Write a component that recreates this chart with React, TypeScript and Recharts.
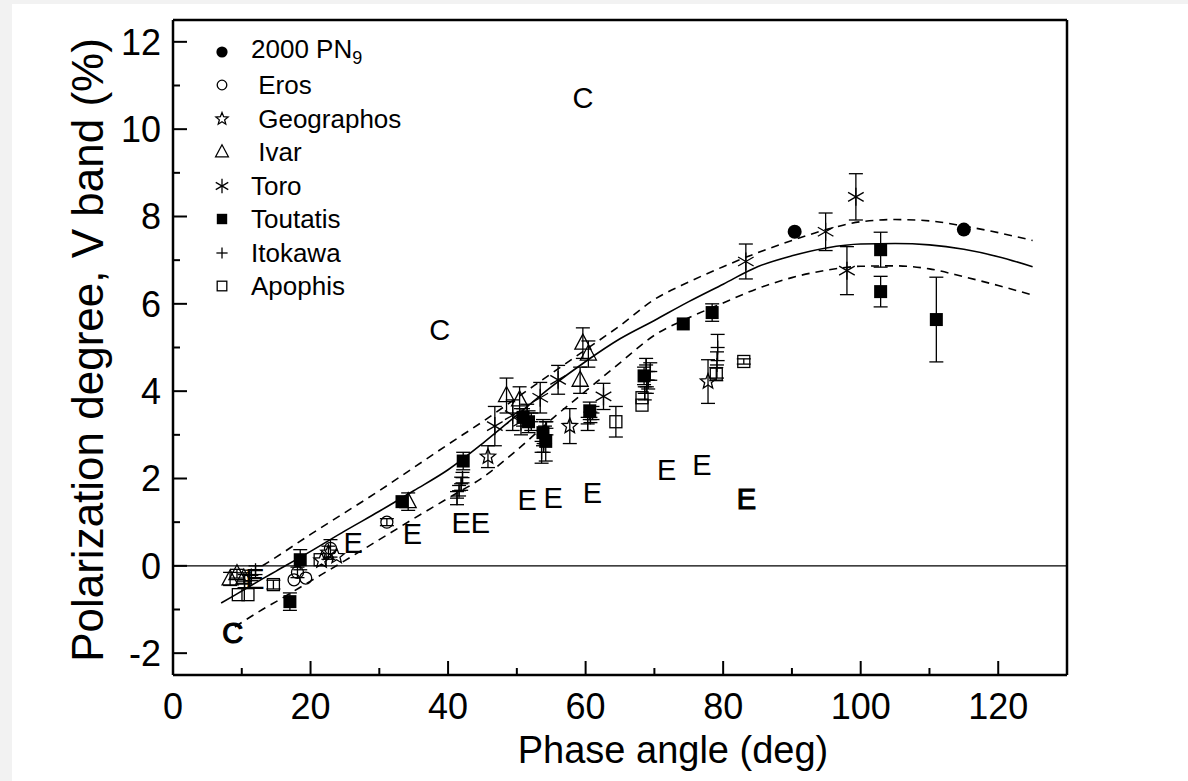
import React from 'react';
import {
  ComposedChart, Line, Scatter, XAxis, YAxis, ErrorBar, ReferenceLine, Legend,
} from 'recharts';

type Pt = { x: number; y: number; e?: number };

const FONT = "Arial, 'Liberation Sans', sans-serif";

// axis ticks
const X_TICKS = [0, 10, 20, 30, 40, 50, 60, 70, 80, 90, 100, 110, 120, 130];
const Y_TICKS = [-2, -1, 0, 1, 2, 3, 4, 5, 6, 7, 8, 9, 10, 11, 12];

// fitted phase curve and its envelope
const CURVE_X = [7, 9, 13, 15, 20, 25, 30, 35, 40, 45, 50, 55, 60, 65, 70, 75, 80, 85, 90, 95, 100, 105, 110, 115, 120, 125];
const FIT = [-0.85, -0.67, -0.3, -0.12, 0.33, 0.8, 1.25, 1.72, 2.2, 2.8, 3.45, 4.1, 4.68, 5.2, 5.62, 6.05, 6.45, 6.85, 7.1, 7.28, 7.37, 7.38, 7.35, 7.25, 7.08, 6.85];
const FIT_UPPER = [null, null, 0.0, 0.2, 0.72, 1.22, 1.72, 2.25, 2.78, 3.3, 3.85, 4.4, 4.95, 5.5, 6.1, 6.5, 6.85, 7.17, 7.45, 7.7, 7.88, 7.93, 7.9, 7.78, 7.63, 7.45];
const FIT_LOWER = [null, -1.4, -1.0, -0.82, -0.35, 0.12, 0.6, 1.08, 1.55, 2.02, 2.65, 3.35, 4.0, 4.65, 5.28, 5.68, 6.02, 6.35, 6.6, 6.77, 6.86, 6.87, 6.8, 6.62, 6.42, 6.2];

// observations
const PN9: Pt[] = [{ x: 90.4, y: 7.65 }, { x: 115, y: 7.7 }];
const EROS: Pt[] = [
  { x: 17.6, y: -0.32 }, { x: 18.1, y: -0.15, e: 0.12 }, { x: 19.3, y: -0.28 },
  { x: 22.9, y: 0.4, e: 0.2 }, { x: 31.1, y: 1.0, e: 0.08 },
];
const GEOGRAPHOS: Pt[] = [
  { x: 21.6, y: 0.12 }, { x: 22.6, y: 0.3, e: 0.15 }, { x: 23.8, y: 0.22 },
  { x: 45.8, y: 2.5, e: 0.25 }, { x: 57.7, y: 3.2, e: 0.4 }, { x: 77.8, y: 4.22, e: 0.5 },
];
const IVAR: Pt[] = [
  { x: 8.3, y: -0.3, e: 0.15 }, { x: 9.3, y: -0.18, e: 0.1 }, { x: 10.3, y: -0.28, e: 0.12 },
  { x: 34.2, y: 1.47, e: 0.2 }, { x: 48.5, y: 3.9, e: 0.4 }, { x: 50.4, y: 3.8, e: 0.3 },
  { x: 59.2, y: 4.25, e: 0.3 }, { x: 59.6, y: 5.1, e: 0.35 }, { x: 60.4, y: 4.85, e: 0.3 },
];
const TORO: Pt[] = [
  { x: 46.8, y: 3.2, e: 0.45 }, { x: 49.4, y: 3.45, e: 0.35 }, { x: 50.6, y: 3.3, e: 0.3 },
  { x: 53.4, y: 3.85, e: 0.35 }, { x: 56, y: 4.26, e: 0.33 }, { x: 62.6, y: 3.88, e: 0.3 },
  { x: 83.3, y: 6.97, e: 0.4 }, { x: 94.9, y: 7.65, e: 0.43 }, { x: 98, y: 6.76, e: 0.55 },
  { x: 99.3, y: 8.45, e: 0.53 },
];
const TOUTATIS: Pt[] = [
  { x: 17, y: -0.82, e: 0.2 }, { x: 18.5, y: 0.14, e: 0.23 }, { x: 33.3, y: 1.47 },
  { x: 42.2, y: 2.4, e: 0.2 }, { x: 50.9, y: 3.4, e: 0.2 }, { x: 51.7, y: 3.3, e: 0.25 },
  { x: 53.8, y: 3.05, e: 0.3 }, { x: 54.2, y: 2.85, e: 0.45 }, { x: 60.6, y: 3.55, e: 0.2 },
  { x: 68.5, y: 4.35, e: 0.2 }, { x: 74.2, y: 5.54 }, { x: 78.4, y: 5.8, e: 0.2 },
  { x: 102.9, y: 7.24, e: 0.4 }, { x: 102.9, y: 6.28, e: 0.35 }, { x: 111, y: 5.64, e: 0.97 },
];
const ITOKAWA: Pt[] = [
  { x: 10.4, y: -0.35, e: 0.15 }, { x: 11.4, y: -0.22, e: 0.12 }, { x: 12, y: -0.1, e: 0.1 },
  { x: 41.3, y: 1.55, e: 0.15 }, { x: 41.6, y: 1.72, e: 0.12 }, { x: 41.9, y: 1.88, e: 0.15 },
  { x: 42.1, y: 2.02, e: 0.12 }, { x: 51.5, y: 3.5, e: 0.2 }, { x: 52.1, y: 3.3, e: 0.2 },
  { x: 53.6, y: 2.6, e: 0.25 }, { x: 53.9, y: 2.8, e: 0.2 }, { x: 54.1, y: 3.0, e: 0.2 },
  { x: 54.3, y: 3.15, e: 0.15 }, { x: 60.3, y: 3.25, e: 0.15 }, { x: 60.7, y: 3.4, e: 0.12 },
  { x: 61, y: 3.5, e: 0.15 }, { x: 68.6, y: 3.95, e: 0.15 }, { x: 68.9, y: 4.1, e: 0.15 },
  { x: 69.1, y: 4.25, e: 0.2 }, { x: 69.4, y: 4.45, e: 0.2 }, { x: 68.8, y: 4.6, e: 0.15 },
  { x: 79.1, y: 4.6, e: 0.3 }, { x: 79.2, y: 5.0, e: 0.3 },
];
const APOPHIS: Pt[] = [
  { x: 9.5, y: -0.66 }, { x: 10.9, y: -0.66 }, { x: 14.6, y: -0.43, e: 0.1 }, { x: 21.4, y: 0.14 },
  { x: 64.4, y: 3.3, e: 0.35 }, { x: 68.2, y: 3.68 }, { x: 68.2, y: 3.85 },
  { x: 79, y: 4.39, e: 0.15 }, { x: 83, y: 4.68, e: 0.06 },
];

// C- and E-type letters drawn in the plot (the *_BOLD ones are printed heavier)
const C_TYPE: Pt[] = [{ x: 38.8, y: 5.41 }, { x: 59.6, y: 10.72 }];
const C_BOLD: Pt[] = [{ x: 8.7, y: -1.52 }];
const E_TYPE: Pt[] = [
  { x: 11.9, y: -0.3 }, { x: 26.2, y: 0.53 }, { x: 34.8, y: 0.75 }, { x: 41.9, y: 0.99 },
  { x: 44.7, y: 0.99 }, { x: 51.5, y: 1.51 }, { x: 55.3, y: 1.56 }, { x: 61, y: 1.67 },
  { x: 71.8, y: 2.2 }, { x: 76.9, y: 2.31 },
];
const E_BOLD: Pt[] = [{ x: 83.4, y: 1.55 }];

type Kind = 'dot' | 'circle' | 'star' | 'tri' | 'aster' | 'square' | 'plus' | 'box';

const SERIES: { name: string; kind: Kind; data: Pt[] }[] = [
  { name: '2000 PN', kind: 'dot', data: PN9 },
  { name: ' Eros', kind: 'circle', data: EROS },
  { name: ' Geographos', kind: 'star', data: GEOGRAPHOS },
  { name: ' Ivar', kind: 'tri', data: IVAR },
  { name: 'Toro', kind: 'aster', data: TORO },
  { name: 'Toutatis', kind: 'square', data: TOUTATIS },
  { name: 'Itokawa', kind: 'plus', data: ITOKAWA },
  { name: 'Apophis', kind: 'box', data: APOPHIS },
];

const curveData = (vals: (number | null)[]) => CURVE_X.map((x, i) => ({ x, y: vals[i] }));

function Marker({ kind, cx, cy, s = 1 }: { kind: Kind; cx: number; cy: number; s?: number }) {
  const sw = 1.3;
  switch (kind) {
    case 'dot':
      return <circle cx={cx} cy={cy} r={7 * s} fill="#000" />;
    case 'circle':
      return <circle cx={cx} cy={cy} r={6 * s} fill="none" stroke="#000" strokeWidth={sw} />;
    case 'star': {
      const pts = Array.from({ length: 10 }, (_, i) => {
        const r = (i % 2 === 0 ? 8 : 3.5) * s;
        const a = -Math.PI / 2 + (i * Math.PI) / 5;
        return `${cx + r * Math.cos(a)},${cy + r * Math.sin(a)}`;
      }).join(' ');
      return <polygon points={pts} fill="none" stroke="#000" strokeWidth={sw} />;
    }
    case 'tri':
      return (
        <polygon
          points={`${cx},${cy - 9 * s} ${cx - 8 * s},${cy + 6 * s} ${cx + 8 * s},${cy + 6 * s}`}
          fill="none" stroke="#000" strokeWidth={sw}
        />
      );
    case 'aster': {
      const r = 9 * s;
      return (
        <g stroke="#000" strokeWidth={sw}>
          {[90, 30, 150].map((d) => {
            const a = (d * Math.PI) / 180;
            return <line key={d} x1={cx - r * Math.cos(a)} y1={cy - r * Math.sin(a)} x2={cx + r * Math.cos(a)} y2={cy + r * Math.sin(a)} />;
          })}
        </g>
      );
    }
    case 'square':
      return <rect x={cx - 6.5 * s} y={cy - 6.5 * s} width={13 * s} height={13 * s} fill="#000" />;
    case 'plus':
      return (
        <g stroke="#000" strokeWidth={sw}>
          <line x1={cx - 7 * s} y1={cy} x2={cx + 7 * s} y2={cy} />
          <line x1={cx} y1={cy - 7 * s} x2={cx} y2={cy + 7 * s} />
        </g>
      );
    case 'box':
      return <rect x={cx - 6 * s} y={cy - 6 * s} width={12 * s} height={12 * s} fill="none" stroke="#000" strokeWidth={sw} />;
    default:
      return null;
  }
}

function BottomTick(p: any) {
  const { x, y, payload } = p;
  const major = payload.value % 20 === 0;
  return (
    <g>
      <line x1={x} y1={y} x2={x} y2={y - (major ? 14 : 7)} stroke="#000" strokeWidth={2} />
      {major && payload.value <= 120 && (
        <text x={x} y={y + 44} textAnchor="middle" fontSize={36} fontFamily={FONT} fill="#000">{payload.value}</text>
      )}
    </g>
  );
}

function TopTick(p: any) {
  const { x, y, payload } = p;
  const major = payload.value % 20 === 0;
  return <line x1={x} y1={y} x2={x} y2={y + (major ? 14 : 7)} stroke="#000" strokeWidth={2} />;
}

function LeftTick(p: any) {
  const { x, y, payload } = p;
  const major = payload.value % 2 === 0;
  return (
    <g>
      <line x1={x} y1={y} x2={x + (major ? 14 : 7)} y2={y} stroke="#000" strokeWidth={2} />
      {major && (
        <text x={x - 12} y={y} dy="0.36em" textAnchor="end" fontSize={36} fontFamily={FONT} fill="#000">{payload.value}</text>
      )}
    </g>
  );
}

function RightTick(p: any) {
  const { x, y, payload } = p;
  const major = payload.value % 2 === 0;
  return <line x1={x} y1={y} x2={x - (major ? 14 : 7)} y2={y} stroke="#000" strokeWidth={2} />;
}

function LegendBox() {
  return (
    <div style={{ fontFamily: FONT, fontSize: 26, color: '#000' }}>
      {SERIES.map((s) => (
        <div key={s.name} style={{ display: 'flex', alignItems: 'center', height: 33.5 }}>
          <svg width={34} height={30} style={{ flex: 'none' }}>
            <Marker kind={s.kind} cx={17} cy={15} s={0.8} />
          </svg>
          <span style={{ whiteSpace: 'pre', marginLeft: 12, lineHeight: 1 }}>
            {s.name}
            {s.kind === 'dot' && <sub style={{ fontSize: 18 }}>9</sub>}
          </span>
        </div>
      ))}
    </div>
  );
}

const letter = (ch: string, bold: boolean) => (p: any) => (
  <text
    x={p.cx} y={p.cy} dy="0.36em" textAnchor="middle" fontSize={29} fontFamily={FONT} fill="#000"
    stroke={bold ? '#000' : 'none'} strokeWidth={bold ? 1.2 : 0}
  >
    {ch}
  </text>
);

const axisLine = { stroke: '#000', strokeWidth: 2.5 };

export default function App() {
  return (
    <div style={{ position: 'absolute', left: 0, top: 0, width: 1188, height: 781, background: '#f2f2f2' }}>
      <div style={{ position: 'absolute', left: 12, top: 4, right: 0, bottom: 0, background: '#fff' }} />
      <div style={{ position: 'absolute', left: 0, top: 0 }}>
        <ComposedChart width={1188} height={781} margin={{ top: 19, right: 120, bottom: 105, left: 172 }}>
          <XAxis
            dataKey="x" type="number" domain={[0, 130]} ticks={X_TICKS} interval={0}
            height={1} tickSize={0} tickMargin={0} tickLine={false} axisLine={axisLine} tick={<BottomTick />}
          />
          <XAxis
            xAxisId="top" orientation="top" type="number" domain={[0, 130]} ticks={X_TICKS} interval={0}
            height={1} tickSize={0} tickMargin={0} tickLine={false} axisLine={axisLine} tick={<TopTick />}
          />
          <YAxis
            type="number" domain={[-2.5, 12.5]} ticks={Y_TICKS} interval={0}
            width={1} tickSize={0} tickMargin={0} tickLine={false} axisLine={axisLine} tick={<LeftTick />}
          />
          <YAxis
            yAxisId="right" orientation="right" type="number" domain={[-2.5, 12.5]} ticks={Y_TICKS} interval={0}
            width={1} tickSize={0} tickMargin={0} tickLine={false} axisLine={axisLine} tick={<RightTick />}
          />
          <ReferenceLine y={0} stroke="#000" strokeWidth={1.3} />
          <Line data={curveData(FIT)} dataKey="y" type="monotone" stroke="#000" strokeWidth={1.6} dot={false} isAnimationActive={false} />
          <Line data={curveData(FIT_UPPER)} dataKey="y" type="monotone" stroke="#000" strokeWidth={1.6} strokeDasharray="8 6" dot={false} isAnimationActive={false} />
          <Line data={curveData(FIT_LOWER)} dataKey="y" type="monotone" stroke="#000" strokeWidth={1.6} strokeDasharray="8 6" dot={false} isAnimationActive={false} />
          {SERIES.map((s) => (
            <Scatter
              key={s.name} name={s.name} data={s.data} dataKey="y" isAnimationActive={false}
              shape={(p: any) => <Marker kind={s.kind} cx={p.cx} cy={p.cy} />}
            >
              <ErrorBar dataKey="e" direction="y" width={7} stroke="#000" strokeWidth={1.3} isAnimationActive={false} />
            </Scatter>
          ))}
          <Scatter data={C_TYPE} dataKey="y" isAnimationActive={false} shape={letter('C', false)} />
          <Scatter data={C_BOLD} dataKey="y" isAnimationActive={false} shape={letter('C', true)} />
          <Scatter data={E_TYPE} dataKey="y" isAnimationActive={false} shape={letter('E', false)} />
          <Scatter data={E_BOLD} dataKey="y" isAnimationActive={false} shape={letter('E', true)} />
          <Legend
            layout="horizontal" verticalAlign="middle" align="center"
            wrapperStyle={{ left: 205, top: 35, width: 260, height: 270 }}
            content={() => <LegendBox />}
          />
        </ComposedChart>
      </div>
      <div style={{ position: 'absolute', left: 673, top: 731, transform: 'translateX(-50%)', fontFamily: FONT, fontSize: 38, lineHeight: 1, whiteSpace: 'nowrap' }}>
        Phase angle (deg)
      </div>
      <div style={{ position: 'absolute', left: 88, top: 350, transform: 'translate(-50%, -50%) rotate(-90deg)', fontFamily: FONT, fontSize: 44, lineHeight: 1, whiteSpace: 'nowrap' }}>
        Polarization degree, V band (%)
      </div>
    </div>
  );
}
